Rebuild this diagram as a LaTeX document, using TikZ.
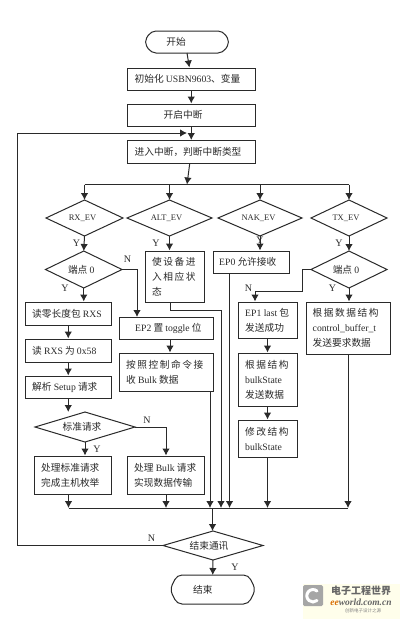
\documentclass[tikz,border=0pt]{standalone}
\usepackage{fontspec}
\setmainfont{Liberation Serif}
\newfontfamily\cjk{Noto Sans CJK SC}
\newfontfamily\cjksp[LetterSpace=16]{Noto Sans CJK SC}
\usetikzlibrary{shapes.geometric,shapes.misc,arrows.meta}
\definecolor{ink}{HTML}{2A2A2A}
\tikzset{
 x=1pt,y=-1pt,
 line/.style={draw=ink,line width=1pt},
 flow/.style={line,-{Latex[length=7pt,width=7.5pt]}},
 txt/.style={font=\cjk\fontsize{9.7}{15}\selectfont,text=ink,align=left},
 lab/.style={font=\fontsize{10}{11}\selectfont,text=ink,inner sep=0pt},
}
\newcommand{\la}[1]{{\rmfamily #1}}
\newcommand{\bx}[7]{% name, x1,y1,x2,y2, xtext offset, text
 \node[line,rectangle,inner sep=0pt,minimum width=#4pt-#2pt,minimum height=#5pt-#3pt] (#1) at ({(#2+#4)/2},{(#3+#5)/2}) {};
 \node[txt,anchor=west,inner sep=0pt] at ({#2+#6},{(#3+#5)/2}) {#7};
}
\newcommand{\dm}[7]{% name,x1,y1,x2,y2,textdx,text
 \coordinate (#1 w) at (#2,{(#3+#5)/2});
 \coordinate (#1 e) at (#4,{(#3+#5)/2});
 \coordinate (#1 n) at ({(#2+#4)/2},#3);
 \coordinate (#1 s) at ({(#2+#4)/2},#5);
 \draw[line,fill=white] (#1 w)--(#1 n)--(#1 e)--(#1 s)--cycle;
 \node[txt,anchor=center,inner sep=0pt] (#1) at ({(#2+#4)/2+#6},{(#3+#5)/2}) {#7};
}
\newcommand{\term}[7]{% name,x1,y1,x2,y2,dx,text
 \coordinate (#1 n) at ({(#2+#4)/2},#3);
 \coordinate (#1 s) at ({(#2+#4)/2},#5);
 \draw[line,rounded corners=5pt] (#2,{(#3+#5)/2})--({#2+7},#3)--({#4-7},#3)--(#4,{(#3+#5)/2})--({#4-7},#5)--({#2+7},#5)--cycle;
 \node[txt,inner sep=0pt] (#1) at ({(#2+#4)/2+#6},{(#3+#5)/2}) {#7};
}
\begin{document}
\begin{tikzpicture}
\useasboundingbox (0,0) rectangle (400,619);
\fill[white] (0,0) rectangle (400,619);
\term{start}{144}{31}{230}{53}{-11}{开始}
\bx{init}{127.5}{68}{255}{90}{7}{初始化 \la{USBN9603}、变量}
\bx{open}{127.5}{104}{255}{126.5}{36}{开启中断}
\bx{enter}{127.5}{140.5}{255}{163}{7}{进入中断，判断中断类型}
\coordinate (bus) at (187,184.5);
\dm{rx}{46}{200}{123}{236}{-2}{\la{\fontsize{8.5}{10}\selectfont RX\_EV}}
\dm{alt}{127}{200}{212}{236}{-3}{\la{\fontsize{8.5}{10}\selectfont ALT\_EV}}
\dm{nak}{218}{200}{302}{236}{-1.5}{\la{\fontsize{8.5}{10}\selectfont NAK\_EV}}
\dm{tx}{311}{200}{387}{236}{-3}{\la{\fontsize{8.5}{10}\selectfont TX\_EV}}
\dm{rxz}{45.5}{251}{122}{288}{-2.5}{端点 \la{0}}
\dm{txz}{311}{251}{387}{288}{-3}{端点 \la{0}}
\bx{a1}{25.5}{302}{111}{325}{6.5}{读零长度包 \la{RXS}}
\bx{a2}{25.5}{339}{111}{362}{6.5}{读 \la{RXS} 为 \la{0x58}}
\bx{a3}{25.5}{376}{111}{398.5}{6.5}{解析 \la{Setup} 请求}
\dm{std}{35}{412}{135}{442}{-3}{标准请求}
\bx{a4}{34.5}{456}{111}{494}{6.5}{处理标准请求\\完成主机枚举}
\bx{a5}{127.5}{456}{204.5}{494}{6.5}{处理 \la{Bulk} 请求\\实现数据传输}
\bx{b1}{145}{251}{204.5}{302}{7}{\cjksp 使设备进\\\cjksp 入相应状\\\cjksp 态}
\bx{b2}{119}{317}{213}{339}{16}{\la{EP2} 置 \la{toggle} 位}
\bx{b3}{119}{353}{213}{391}{7}{\cjksp 按照控制命令接\\\cjk 收 \la{Bulk} 数据}
\bx{c1}{213}{251}{289}{273}{6}{\la{EP0} 允许接收}
\bx{d1}{238}{302}{297}{338}{7}{\la{EP1 last} 包\\发送成功}
\bx{d2}{238}{353}{297}{406}{7}{\cjksp 根据结构\\\la{bulkState}\\发送数据}
\bx{d3}{238}{420}{297}{457}{7}{\cjksp 修改结构\\\la{bulkState}}
\bx{e1}{306.5}{302}{390.5}{354}{6}{\cjksp 根据数据结构\\\la{control\_buffer\_t}\\发送要求数据}
\dm{fin}{163}{531}{263}{560}{-4}{结束通讯}
\term{end}{170}{575}{255.5}{604}{-10}{结束}

\draw[flow] (start s)--(init);
\draw[flow] (init)--(open);
\draw[flow] (open)--(enter);
\draw[flow] (enter)--(bus);
\coordinate (r1) at (rx n|-bus);
\coordinate (r2) at (alt n|-bus);
\coordinate (r3) at (nak n|-bus);
\coordinate (r4) at (tx n|-bus);
\draw[line] (r1)--(r4);
\draw[flow] (r1)--(rx n);
\draw[flow] (r2)--(alt n);
\draw[flow] (r3)--(nak n);
\draw[flow] (r4)--(tx n);
\draw[flow] (rx s)--(rxz n);
\draw[flow] (tx s)--(txz n);
\draw[flow] (alt s)--(alt s|-b1.north);
\draw[flow] (nak s)--(nak s|-c1.north);
\draw[flow] (rxz s)--(rxz s|-a1.north);
\draw[flow] (a1.south)--(a2.north);
\draw[flow] (a2.south)--(a3.north);
\draw[flow] (a3.south)--(a3.south|-std n);
\draw[flow] (std s)--(std s|-a4.north);
\draw[flow] (std e)-|(a5.north);
\coordinate (s1) at (137,317);
\draw[flow] (rxz e)-|(s1);
\draw[flow] (b2.south-|170,0)--(b3.north-|170,0);
\draw[flow] (txz s)--(txz s|-e1.north);
\coordinate (t1) at (302,269.5);
\coordinate (t2) at (302,291);
\coordinate (t3) at (255,291);
\draw[flow] (txz w)--(t1)--(t2)--(t3)--(t3|-d1.north);
\draw[flow] (d1.south)--(d2.north);
\draw[flow] (d2.south)--(d3.north);
% collection bus
\coordinate (c0) at (68.5,508);
\coordinate (cm) at (212.5,508);
\coordinate (c9) at (348,508);
\draw[line] (c0)--(c9);
\draw[flow] (c0|-a4.south)--(c0);
\draw[flow] (a5.south)--(a5.south|-c0);
\coordinate (k1) at (210,391);
\draw[flow] (k1)--(k1|-c0);
\coordinate (k2) at (170,302);
\coordinate (k3) at (170,310.5);
\coordinate (k4) at (221,310.5);
\draw[flow] (k2)--(k3)--(k4)--(k4|-c0);
\coordinate (k5) at (229.5,273);
\draw[flow] (k5)--(k5|-c0);
\draw[flow] (d3.south)--(d3.south|-c0);
\draw[flow] (e1.south-|c9)--(c9);
\draw[flow] (cm)--(cm|-fin n);
\draw[flow] (fin s)--(end n);
\coordinate (l1) at (17.5,545.5);
\coordinate (l2) at (17.5,133);
\coordinate (l3) at (187,133);
\draw[flow] (fin w)--(l1)--(l2)--(l3);
% labels
\foreach \t/\x/\y/\n in {Y/76.5/243.5/y1,Y/156/243.5/y2,Y/260/240/y3,Y/339/243.5/y4,Y/65/288.5/y5,N/127.5/259/n1,N/248.5/288/n2,Y/332.5/288/y6,N/147/420/n3,Y/97/449.5/y7,N/151.5/538/n4,Y/235/567/y8}
  \node[lab] (\n) at (\x,\y) {\t};
% logo
\fill[yellow!8] (303,584) rectangle (400,619);
\fill[gray!70,rounded corners=1.5pt] (303,585) rectangle (323,606);
\draw[white,line width=3pt,line cap=round] (317,591) arc[start angle=50,end angle=310,radius=6.2pt];
\node[font=\cjk\bfseries\fontsize{10}{10}\selectfont,text=gray!80!black,inner sep=0pt] (logoa) at (361,590.5) {电子工程世界};
\node[font=\fontsize{9.5}{10}\selectfont\bfseries\itshape,text=gray!80!black,inner sep=0pt] (logob) at (361,602) {\textcolor{orange!85!black}{ee}world.com.cn};
\node[font=\cjk\fontsize{4.5}{5}\selectfont,text=gray,inner sep=0pt] (logot) at (363,610.5) {创新电子设计之源};
\end{tikzpicture}
\end{document}
